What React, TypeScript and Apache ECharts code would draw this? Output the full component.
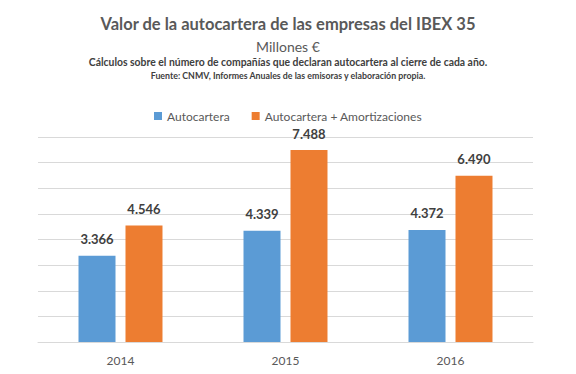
import React, { useEffect, useRef } from "react";
import * as echarts from "echarts";

const categories = ["2014", "2015", "2016"];
const autocartera = [3366, 4339, 4372];
const autocarteraAmort = [4546, 7488, 6490];
const seriesNames = ["Autocartera", "Autocartera + Amortizaciones"];

const fmt = (v: number) => {
  const s = String(Math.round(v));
  return s.replace(/\B(?=(\d{3})+(?!\d))/g, ".");
};

const FONT = "Lato, 'Open Sans', sans-serif";

export default function App() {
  const ref = useRef<HTMLDivElement>(null);
  useEffect(() => {
    if (!ref.current) return;
    const chart = echarts.init(ref.current, null, { renderer: "svg" });
    chart.setOption({
      animation: false,
      backgroundColor: "#ffffff",
      textStyle: { fontFamily: FONT },
      title: [
        {
          text: "Valor de la autocartera de las empresas del IBEX 35",
          left: "center",
          top: 10,
          textStyle: { fontSize: 16.5, fontWeight: "bold", color: "#595959", fontFamily: FONT },
        },
        {
          text: "Millones €",
          left: "center",
          top: 34,
          textStyle: { fontSize: 14, fontWeight: "normal", color: "#595959", fontFamily: FONT },
        },
        {
          text: "Cálculos sobre el número de compañías que declaran autocartera al cierre de cada año.",
          left: "center",
          top: 52,
          textStyle: { fontSize: 10.4, fontWeight: "bold", color: "#404040", fontFamily: FONT },
        },
        {
          text: "Fuente: CNMV, Informes Anuales de las emisoras y elaboración propia.",
          left: "center",
          top: 66,
          textStyle: { fontSize: 8.8, fontWeight: "bold", color: "#404040", fontFamily: FONT },
        },
      ],
      legend: {
        top: 105,
        left: "center",
        itemWidth: 8,
        itemHeight: 8,
        itemGap: 22,
        icon: "rect",
        textStyle: { fontSize: 12, color: "#595959", fontFamily: FONT },
        data: seriesNames,
      },
      grid: { left: 38, right: 43, top: 137, bottom: 32 },
      xAxis: {
        type: "category",
        data: categories,
        axisTick: { show: false },
        axisLine: { lineStyle: { color: "#d9d9d9" } },
        axisLabel: { color: "#595959", fontSize: 12, margin: 12, fontFamily: FONT },
      },
      yAxis: {
        type: "value",
        min: 0,
        max: 8000,
        interval: 1000,
        axisLabel: { show: false },
        axisLine: { show: false },
        axisTick: { show: false },
        splitLine: { lineStyle: { color: "#d9d9d9" } },
      },
      series: [
        {
          name: seriesNames[0],
          type: "bar",
          data: autocartera,
          barWidth: 37,
          barGap: "27%",
          itemStyle: { color: "#5b9bd5" },
          label: {
            show: true,
            position: "top",
            distance: 10,
            formatter: (p: any) => fmt(p.value),
            fontSize: 13,
            fontWeight: "bold",
            color: "#404040",
            fontFamily: FONT,
          },
        },
        {
          name: seriesNames[1],
          type: "bar",
          data: autocarteraAmort,
          barWidth: 37,
          itemStyle: { color: "#ed7d31" },
          label: {
            show: true,
            position: "top",
            distance: 10,
            formatter: (p: any) => fmt(p.value),
            fontSize: 13,
            fontWeight: "bold",
            color: "#404040",
            fontFamily: FONT,
          },
        },
      ],
    });
    return () => chart.dispose();
  }, []);
  return <div ref={ref} style={{ width: 576, height: 374, position: "absolute", left: 0, top: 0 }} />;
}
